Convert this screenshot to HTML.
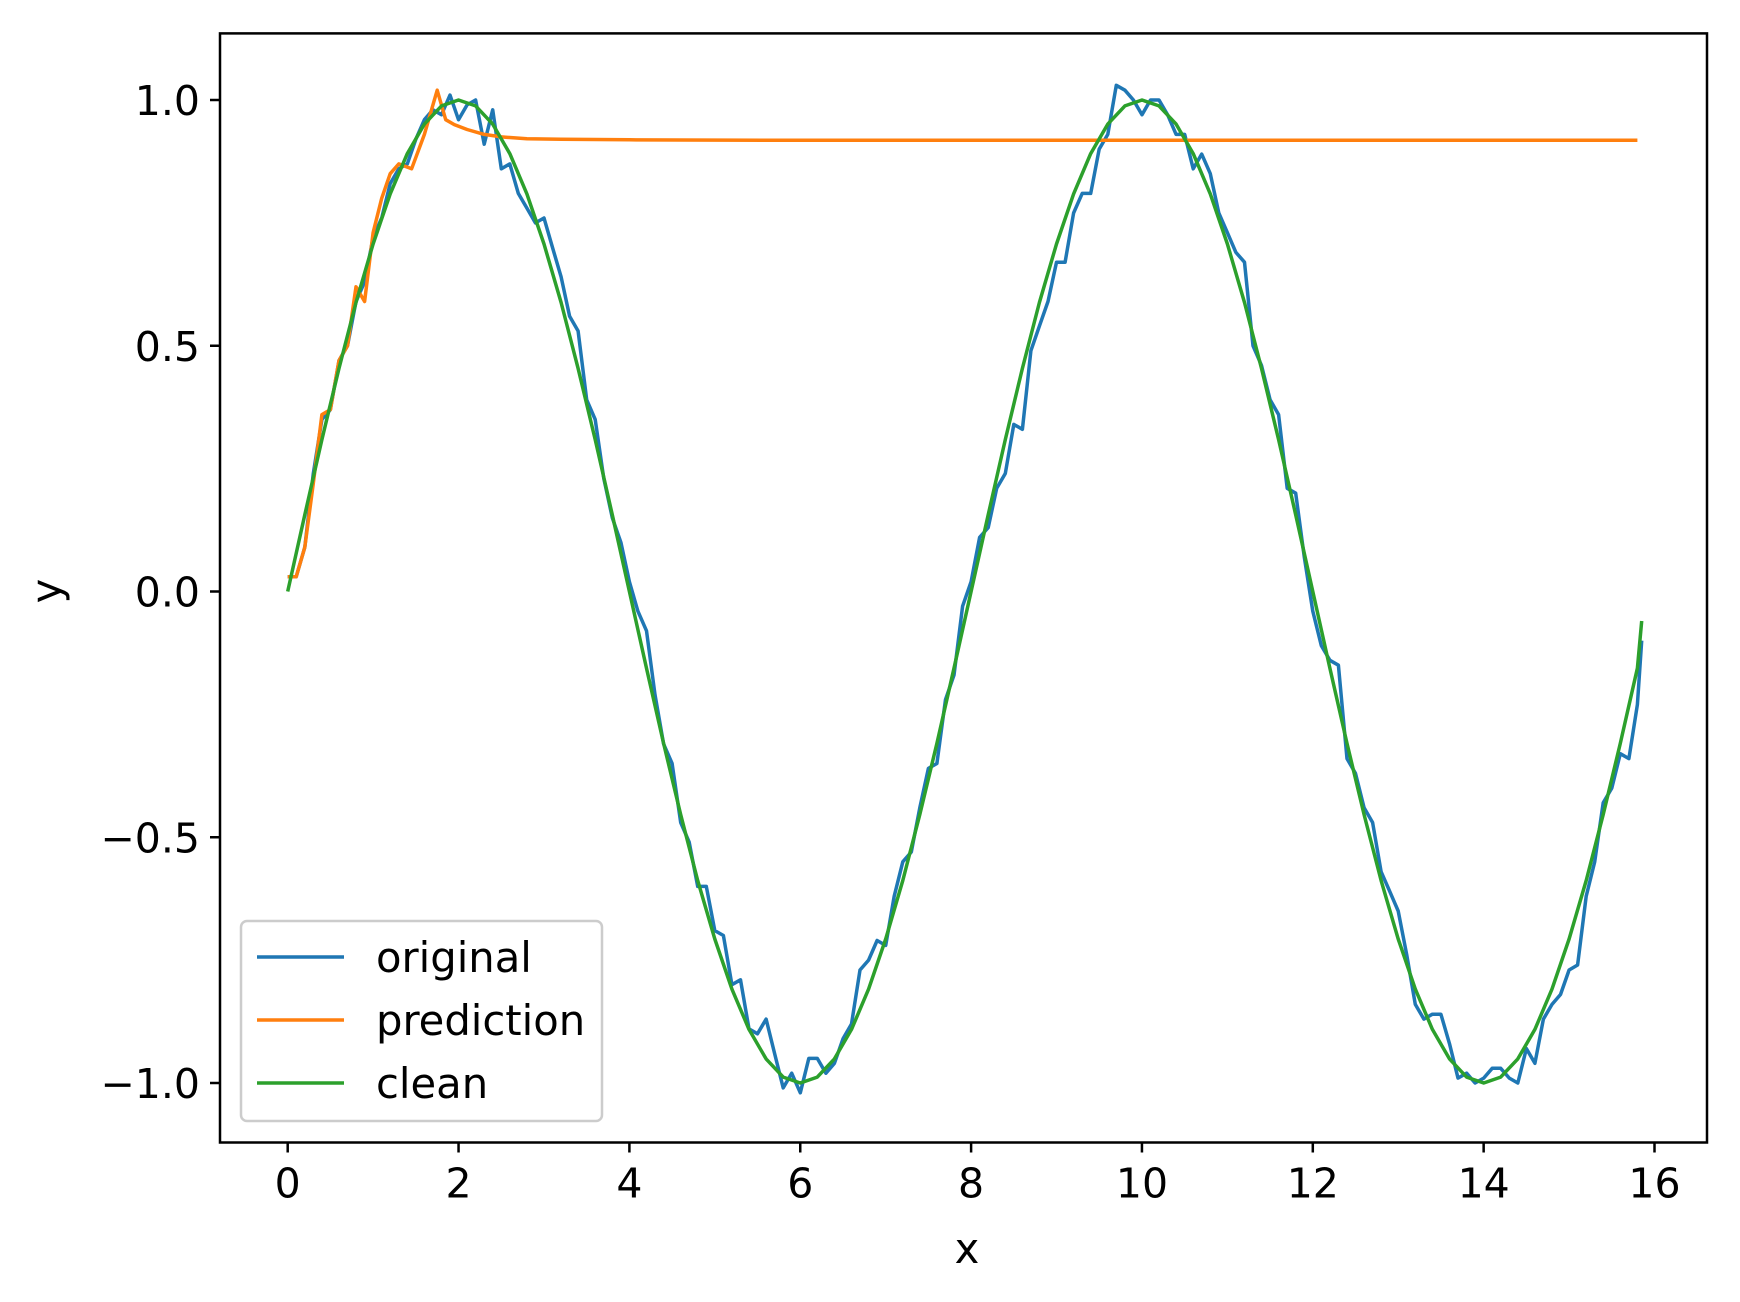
<!DOCTYPE html>
<html><head><meta charset="utf-8">
<style>
html,body{margin:0;padding:0;background:#fff;}
svg{display:block;font-family:"DejaVu Sans","Liberation Sans",sans-serif;}
</style></head>
<body>
<svg id="chart" width="1740" height="1302" viewBox="0 0 1740 1302" xmlns="http://www.w3.org/2000/svg">
<rect width="1740" height="1302" fill="#fff"/>
<g id="plot"></g>
<g id="axes"></g>
<text x="967" y="1263" font-size="41.7" text-anchor="middle">x</text>
<text x="0" y="0" font-size="41.7" text-anchor="middle" transform="translate(61,591) rotate(-90)">y</text>
<g>
<rect x="241" y="921" width="361" height="200" rx="6" fill="#fff" fill-opacity="0.8" stroke="#ccc" stroke-width="2.5"/>
<g><line x1="257" y1="957" x2="344" y2="957" stroke="#1f77b4" stroke-width="3.5"/><text x="376" y="972" font-size="41.7">original</text></g>
<g><line x1="257" y1="1020" x2="344" y2="1020" stroke="#ff7f0e" stroke-width="3.5"/><text x="376" y="1035" font-size="41.7">prediction</text></g>
<g><line x1="257" y1="1083" x2="344" y2="1083" stroke="#2ca02c" stroke-width="3.5"/><text x="376" y="1098" font-size="41.7">clean</text></g>
</g>
</svg>
<script>
const originalY=[0.03,0.03,0.09,0.24,0.35,0.37,0.47,0.50,0.59,0.63,0.72,0.76,0.83,0.86,0.87,0.92,0.96,0.98,0.97,1.01,
0.96,0.99,1.00,0.91,0.98,0.86,0.87,0.81,0.78,0.75,0.76,0.70,0.64,0.56,0.53,0.39,0.35,0.23,0.15,0.10,
0.02,-0.04,-0.08,-0.21,-0.31,-0.35,-0.47,-0.51,-0.60,-0.60,-0.69,-0.70,-0.80,-0.79,-0.89,-0.90,-0.87,-0.94,-1.01,-0.98,
-1.02,-0.95,-0.95,-0.98,-0.96,-0.91,-0.88,-0.77,-0.75,-0.71,-0.72,-0.62,-0.55,-0.53,-0.44,-0.36,-0.35,-0.22,-0.17,-0.03,
0.02,0.11,0.13,0.21,0.24,0.34,0.33,0.49,0.54,0.59,0.67,0.67,0.77,0.81,0.81,0.90,0.93,1.03,1.02,1.00,
0.97,1.00,1.00,0.97,0.93,0.93,0.86,0.89,0.85,0.77,0.73,0.69,0.67,0.50,0.46,0.39,0.36,0.21,0.20,0.07,
-0.04,-0.11,-0.14,-0.15,-0.34,-0.37,-0.44,-0.47,-0.57,-0.61,-0.65,-0.74,-0.84,-0.87,-0.86,-0.86,-0.92,-0.99,-0.98,-1.00,
-0.99,-0.97,-0.97,-0.99,-1.00,-0.93,-0.96,-0.87,-0.84,-0.82,-0.77,-0.76,-0.62,-0.55,-0.43,-0.40,-0.33,-0.34,-0.23,-0.10];
const originalStep=0.1;
const predX=[0,0.1,0.2,0.3,0.4,0.5,0.6,0.7,0.8,0.9,1.0,1.1,1.2,1.3,1.45,1.6,1.75,1.85,1.95,2.1,2.3,2.5,2.8,3.2,4,6,10,15.8];
const predY=[0.03,0.03,0.09,0.22,0.36,0.37,0.47,0.50,0.62,0.59,0.73,0.80,0.85,0.87,0.86,0.93,1.02,0.96,0.95,0.94,0.93,0.925,0.921,0.92,0.919,0.918,0.918,0.918];
const cleanY=[0,0.156,0.309,0.454,0.588,0.707,0.809,0.891,0.951,0.988,1,0.988,0.951,0.891,0.809,0.707,0.588,0.454,0.309,0.156,
0,-0.156,-0.309,-0.454,-0.588,-0.707,-0.809,-0.891,-0.951,-0.988,-1,-0.988,-0.951,-0.891,-0.809,-0.707,-0.588,-0.454,-0.309,-0.156,
0,0.156,0.309,0.454,0.588,0.707,0.809,0.891,0.951,0.988,1,0.988,0.951,0.891,0.809,0.707,0.588,0.454,0.309,0.156,
0,-0.156,-0.309,-0.454,-0.588,-0.707,-0.809,-0.891,-0.951,-0.988,-1,-0.988,-0.951,-0.891,-0.809,-0.707,-0.588,-0.454,-0.309,-0.156,-0.06];
const cleanStep=0.2;
const xTicks=[0,2,4,6,8,10,12,14,16];
const yTicks=[-1.0,-0.5,0.0,0.5,1.0];
const yTickLabels=["\u22121.0","\u22120.5","0.0","0.5","1.0"];

const L=220,R=1707,T=33.4,B=1142.5;
function sx(x){return 287.7+x*(1654.5-287.7)/16;}
function sy(y){return 591.5-y*491.5;}
const NS="http://www.w3.org/2000/svg";
const plot=document.getElementById('plot'),axes=document.getElementById('axes');
function mk(tag,attrs,parent){const e=document.createElementNS(NS,tag);for(const k in attrs)e.setAttribute(k,attrs[k]);parent.appendChild(e);return e;}
function path(xs,ys,color,name){
  let d='';for(let i=0;i<ys.length;i++)d+=(i?'L':'M')+sx(xs[i]).toFixed(1)+','+sy(ys[i]).toFixed(1);
  const p=mk('path',{d:d,fill:'none',stroke:color,'stroke-width':3.5,'stroke-linejoin':'round'},plot);
  
  
}
const ox=originalY.map((_,i)=>Math.min(i*originalStep,15.85));
const cx=cleanY.map((_,i)=>Math.min(i*cleanStep,15.85));
path(ox,originalY,'#1f77b4','series-original');
path(predX,predY,'#ff7f0e','series-prediction');
path(cx,cleanY,'#2ca02c','series-clean');
const fr=mk('rect',{x:L,y:T,width:R-L,height:B-T,fill:'none',stroke:'#000','stroke-width':2.5},axes);


xTicks.forEach(v=>{
  const x=sx(v);
  const t=mk('line',{x1:x,y1:B,x2:x,y2:B+10,stroke:'#000','stroke-width':2.5},axes);
  
  
  const tx=mk('text',{x:x,y:B+55,'font-size':41,'text-anchor':'middle'},axes);
  tx.textContent=String(v);
  
  
});
yTicks.forEach((v,i)=>{
  const y=sy(v);
  const t=mk('line',{x1:L-10,y1:y,x2:L,y2:y,stroke:'#000','stroke-width':2.5},axes);
  
  
  const tx=mk('text',{x:L-20,y:y+15,'font-size':41,'text-anchor':'end'},axes);
  tx.textContent=yTickLabels[i];
  
  
});
</script>
</body></html>
